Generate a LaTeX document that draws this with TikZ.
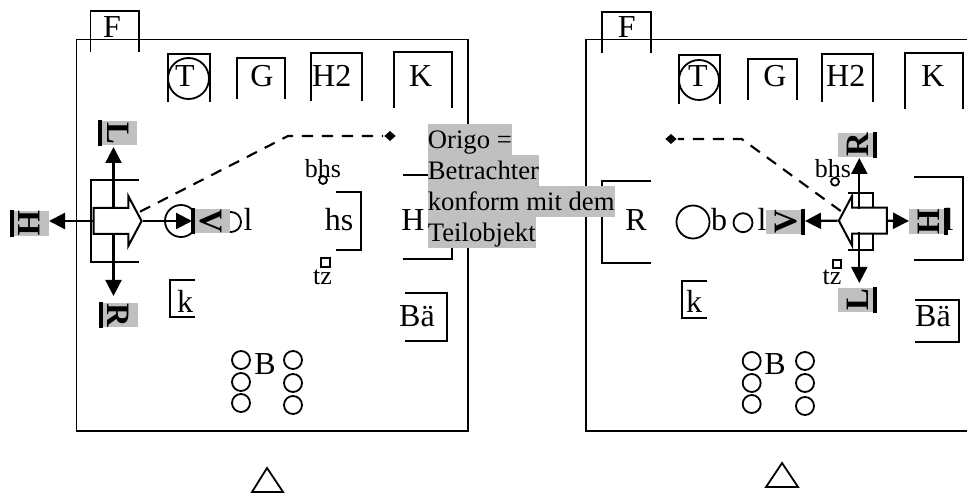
\documentclass[tikz,border=0pt]{standalone}
\usepackage{fontspec}
\setmainfont{Liberation Serif}
\usetikzlibrary{arrows.meta,shapes.geometric,shapes.arrows}
\definecolor{lblgray}{HTML}{C0C0C0}
\begin{document}
\begin{tikzpicture}[x=0.75pt,y=-0.75pt,line width=1.35pt,
    every node/.style={inner sep=0pt},
    txt/.style={anchor=base,font=\fontsize{24}{28}\selectfont},
    smalltxt/.style={anchor=base,font=\fontsize{19.5}{23}\selectfont},
    origo/.style={anchor=north west,fill=lblgray,text height=18.75pt,text depth=4.5pt,font=\fontsize{20}{23}\selectfont},
    dirlabel/.style={fill=lblgray,minimum width=18pt,minimum height=27pt,text height=20pt,text depth=2pt,font=\fontsize{24.5}{28}\selectfont\bfseries},
    dirbar/.style={line width=3pt},
    dirarrow/.style={-{Triangle[length=12pt,width=12pt]},line width=1.7pt},
    blockarrow/.style={single arrow,draw,fill=white,line width=1.5pt,minimum height=36pt,single arrow head extend=9pt,single arrow tip angle=124,inner xsep=0pt,inner ysep=9pt,anchor=tip},
    sightline/.style={line width=1.6pt,dash pattern=on 8.5pt off 6.5pt},
    origin/.style={diamond,fill=black,minimum width=9pt,minimum height=8pt}]
    \useasboundingbox (0,0) rectangle (967,495);
    \draw (76.5,39.5) rectangle (468,430.7);
    \draw (967,39.5) -- (586,39.5) -- (586,430.7) -- (967,430.7);
    \draw (90.5,52) -- (90.5,11) -- (139,11) -- (139,52);
    \draw (168,102) -- (168,54) -- (210,54) -- (210,102);
    \draw (237,99) -- (237,58) -- (285,58) -- (285,99);
    \draw (311,101) -- (311,53) -- (362,53) -- (362,101);
    \draw (394,108) -- (394,52) -- (452,52) -- (452,108);
    \draw (139,180) -- (91,180) -- (91,262) -- (139,262);
    \draw (336,192) -- (361,192) -- (361,250) -- (336,250);
    \draw (403,175) -- (452,175) -- (452,259) -- (403,259);
    \draw (195,280) -- (170,280) -- (170,317) -- (195,317);
    \draw (405,293) -- (447,293) -- (447,341) -- (405,341);
    \draw (602,53) -- (602,12) -- (651,12) -- (651,53);
    \draw (679,104) -- (679,55) -- (720,55) -- (720,104);
    \draw (748,100) -- (748,59) -- (797,59) -- (797,100);
    \draw (822,102) -- (822,54) -- (873,54) -- (873,102);
    \draw (905,109) -- (905,53) -- (963,53) -- (963,109);
    \draw (651,181) -- (602,181) -- (602,263) -- (651,263);
    \draw (848,193) -- (873,193) -- (873,250) -- (848,250);
    \draw (914,177) -- (963,177) -- (963,260) -- (914,260);
    \draw (707,281) -- (682,281) -- (682,318) -- (707,318);
    \draw (915,300) -- (959,300) -- (959,342) -- (915,342);
    \draw (188.5,78.5) circle (20.5);
    \draw (699,80) circle (20);
    \draw (181,221) circle (16);
    \draw (231,222) circle (10);
    \draw (693,222) circle (16.5);
    \draw (743,222.7) circle (9.5);
    \draw (323,180) circle (4);
    \draw (835,181.7) circle (4);
    \draw (321,258) rectangle (330,267);
    \draw (833,260) rectangle (841,268);
    \draw (241,360) circle (9);
    \draw (241,382) circle (9);
    \draw (241,403) circle (9);
    \draw (293,360) circle (9);
    \draw (293,383) circle (9);
    \draw (293,405) circle (9);
    \draw (751.7,361) circle (9);
    \draw (751.7,383) circle (9);
    \draw (751.7,404) circle (9);
    \draw (805,361) circle (9);
    \draw (805,383) circle (9);
    \draw (805,406) circle (9);
    \draw (267,468) -- (283,492) -- (252,492) -- cycle;
    \draw (782,463) -- (798,487) -- (766,487) -- cycle;
    \node[txt] (fL) at (112,38) {F};
    \node[txt] (tL) at (185,87) {T};
    \node[txt] (gL) at (262,87) {G};
    \node[txt] (hzL) at (331.7,87) {H2};
    \node[txt] (kL) at (420.7,87) {K};
    \node[txt] (lL) at (248,231) {l};
    \node[txt] (hsL) at (339,231) {hs};
    \node[txt] (hL) at (413,231) {H};
    \node[txt] (klL) at (185,312.7) {k};
    \node[txt] (baeL) at (417,326.7) {Bä};
    \node[txt] (bL) at (265,374) {B};
    \node[smalltxt] (bhsL) at (323,178) {bhs};
    \node[smalltxt] (tzL) at (322.5,285) {tz};
    \node[txt] (fR) at (626.7,38) {F};
    \node[txt] (tR) at (698,87) {T};
    \node[txt] (gR) at (775,87) {G};
    \node[txt] (hzR) at (845.7,87) {H2};
    \node[txt] (kR) at (933,87) {K};
    \node[txt] (rR) at (636,231) {R};
    \node[txt] (bsR) at (719,231) {b};
    \node[txt] (lR) at (762,231) {l};
    \node[txt] (lhR) at (949,231) {l};
    \node[txt] (klR) at (694,312) {k};
    \node[txt] (baeR) at (933,326.7) {Bä};
    \node[txt] (bR) at (775,374) {B};
    \node[smalltxt] (bhsR) at (833,178) {bhs};
    \node[smalltxt] (tzR) at (832,285) {tz};
    \node[origin] (oriL) at (390,136) {};
    \node[origin] (oriR) at (671,139) {};
    \coordinate (viewL) at (140,211.7);
    \coordinate (bendL) at (288,136);
    \coordinate (viewR) at (840.7,211);
    \coordinate (bendR) at (741.7,139);
    \draw[sightline] (viewL) -- (bendL) -- (oriL);
    \draw[sightline] (viewR) -- (bendR) -- (oriR);
    \coordinate (upL) at (113.5,209);
    \coordinate (downL) at (113.5,233);
    \coordinate (upR) at (859.3,209);
    \coordinate (downR) at (859.3,232);
    \coordinate (tipLL) at (113.5,147);
    \coordinate (tipRL) at (113.5,296);
    \coordinate (tipHL) at (49,221);
    \coordinate (tipVL) at (192,221);
    \coordinate (tipRR) at (859.3,158);
    \coordinate (tipLR) at (859.3,283);
    \coordinate (tipVR) at (805,221);
    \coordinate (tipHR) at (909,221);
    \node[blockarrow] (blockL) at (142.7,221) {};
    \node[blockarrow,shape border rotate=180] (blockR) at (837.7,220.7) {};
    \draw[dirarrow] (upL) -- (tipLL);
    \draw[dirarrow] (downL) -- (tipRL);
    \draw[dirarrow] (blockL.tail) -- (tipHL);
    \draw[dirarrow] (blockL.tip) -- (tipVL);
    \draw[dirarrow] (upR) -- (tipRR);
    \draw[dirarrow] (downR) -- (tipLR);
    \draw[dirarrow] (blockR.tip) -- (tipVR);
    \draw[dirarrow] (blockR.tail) -- (tipHR);
    \node[dirlabel,rotate=-90] (labLL) at (119,133) {L};
    \node[dirlabel,rotate=-90] (labHL) at (30.5,223.5) {H};
    \node[dirlabel,rotate=-90] (labVL) at (212,221) {V};
    \node[dirlabel,rotate=-90] (labRL) at (119.5,315) {R};
    \node[dirlabel,rotate=90] (labRR) at (856,145) {R};
    \node[dirlabel,rotate=90] (labVR) at (784,222) {V};
    \node[dirlabel,rotate=90] (labHR) at (927,221.5) {H};
    \node[dirlabel,rotate=90] (labLR) at (856,300) {L};
    \draw[dirbar] (labLL.south west) -- (labLL.south east);
    \draw[dirbar] (labHL.south west) -- (labHL.south east);
    \draw[dirbar] (labVL.south west) -- (labVL.south east);
    \draw[dirbar] (labRL.south west) -- (labRL.south east);
    \draw[dirbar] (labRR.south west) -- (labRR.south east);
    \draw[dirbar] (labVR.south west) -- (labVR.south east);
    \draw[dirbar] (labHR.south west) -- (labHR.south east);
    \draw[dirbar] (labLR.south west) -- (labLR.south east);
    \node[origo] (noteA) at (427,123) {Origo =};
    \node[origo] (noteB) at (427,154) {Betrachter};
    \node[origo] (noteC) at (427,185) {konform mit dem};
    \node[origo] (noteD) at (427,216) {Teilobjekt};
\end{tikzpicture}
\end{document}
